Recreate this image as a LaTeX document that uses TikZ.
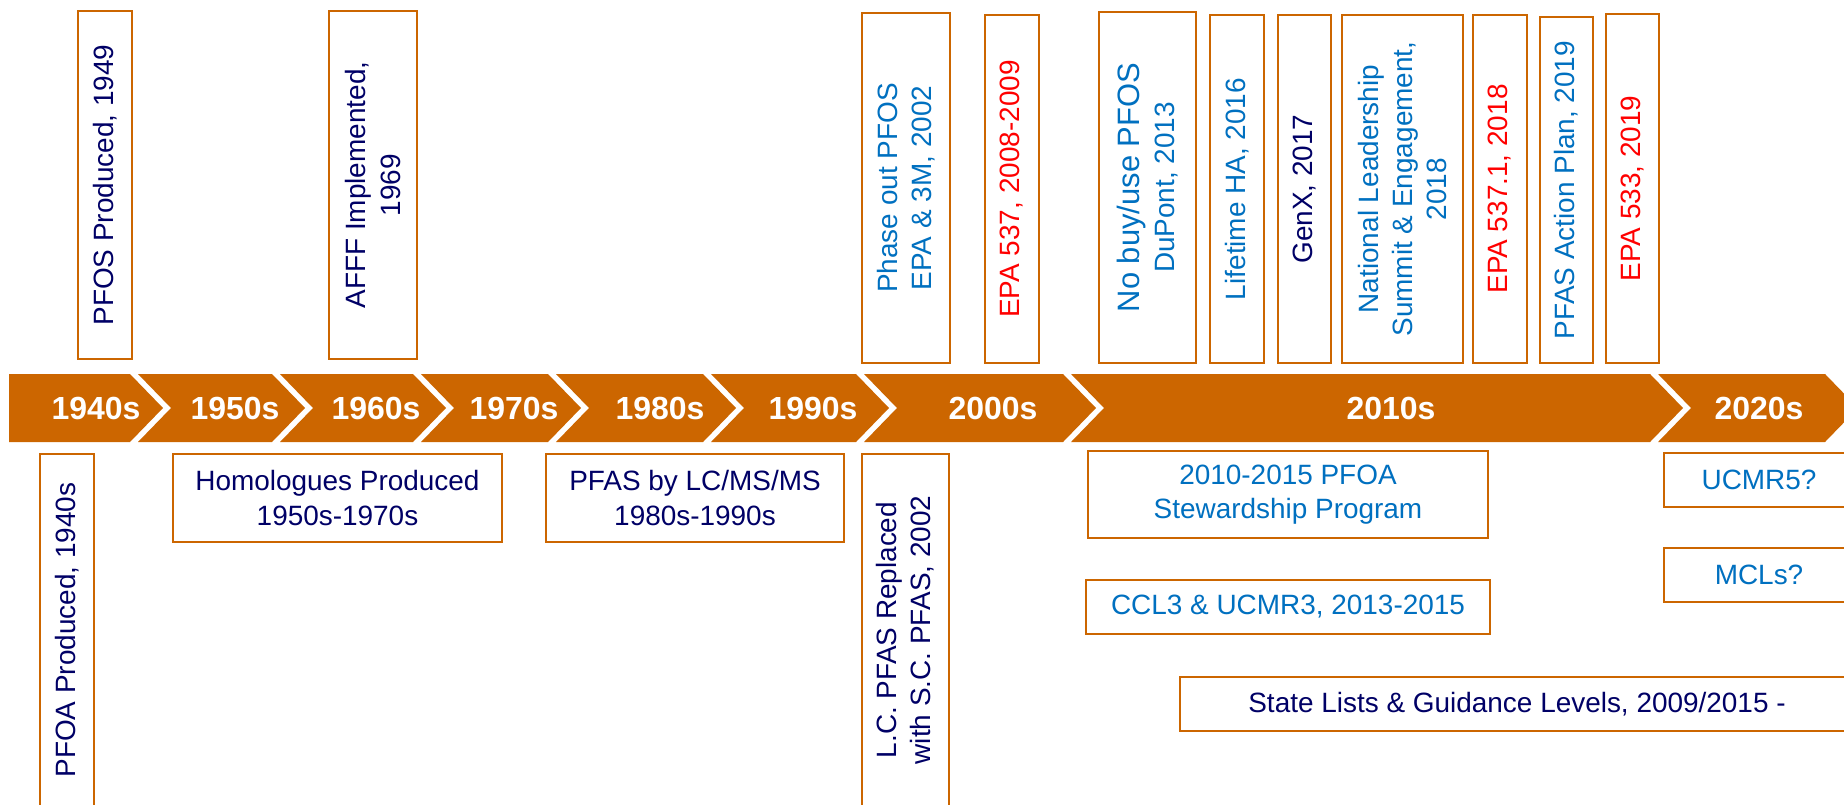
\documentclass[tikz,border=0pt]{standalone}
\usepackage{fontspec}
\setmainfont{Liberation Sans}
\definecolor{tlorange}{HTML}{CC6600}
\definecolor{tlnavy}{HTML}{000066}
\definecolor{tlblue}{HTML}{0070C0}
\definecolor{tlred}{HTML}{FF0000}

\begin{document}
\begin{tikzpicture}[
  x=0.02cm, y=-0.02cm,
  decade/.style={text=white, font=\fontsize{18.2}{20}\selectfont\bfseries},
  evbox/.style={draw=tlorange, line width=1.15pt, fill=white, inner sep=0pt, align=center, font=\fontsize{15.9}{19.5}\selectfont},
  vbox/.style 2 args={evbox, rotate=90, minimum width=#1*0.02cm, minimum height=#2*0.02cm},
  hbox/.style 2 args={evbox, minimum width=#1*0.02cm, minimum height=#2*0.02cm},
]
\clip (0,0) rectangle (1844,804);

% Decade bar
\foreach \xl/\xr/\xt/\nd/\lab in {9/130/96/0/1940s, 138/272/235/33/1950s, 280/413/376/33/1960s,
    421/548/514/33/1970s, 556/703/660/33/1980s, 711/856/813/33/1990s, 864/1063/993/33/2000s,
    1071/1650/1391/33/2010s, 1658/1825/1759/33/2020s}{
  \fill[tlorange] (\xl,374) -- (\xr,374) -- (\xr+33,408) -- (\xr,442) -- (\xl,442) -- (\xl+\nd,408) -- cycle;
  \node[decade] (d\lab) at (\xt,408) {\lab};
}

% Events above the bar
\node[vbox={348}{54}, text=tlnavy] (pfos) at (105,185) {PFOS Produced, 1949};
\node[vbox={348}{88}, text=tlnavy] (afff) at (373,185) {AFFF Implemented,\\1969};
\node[vbox={350}{88}, text=tlblue] (phaseout) at (906,188) {Phase out PFOS\\EPA \& 3M, 2002};
\node[vbox={348}{54}, text=tlred] (epa537) at (1012,189) {EPA 537, 2008-2009};
\node[vbox={351}{97}, text=tlblue] (nobuy) at (1147.5,187.5) {{\fontsize{17.6}{19.5}\selectfont No buy/use PFOS}\\DuPont, 2013};
\node[vbox={348}{54}, text=tlblue] (lifeha) at (1237,189) {Lifetime HA, 2016};
\node[vbox={348}{53}, text=tlnavy] (genx) at (1304.5,189) {GenX, 2017};
\node[vbox={348}{121}, text=tlblue] (summit) at (1402.5,189) {National Leadership\\Summit \& Engagement,\\2018};
\node[vbox={348}{54}, text=tlred] (epa5371) at (1500,189) {EPA 537.1, 2018};
\node[vbox={346}{53}, text=tlblue] (actplan) at (1566.5,190) {PFAS Action Plan, 2019};
\node[vbox={349}{53}, text=tlred] (epa533) at (1632.5,188.5) {EPA 533, 2019};

% Events below the bar
\node[vbox={352}{54}, text=tlnavy] (pfoa) at (67,630) {PFOA Produced, 1940s};
\node[hbox={329}{88}, text=tlnavy] (homol) at (337.5,498) {Homologues Produced\\1950s-1970s};
\node[hbox={298}{88}, text=tlnavy] (lcmsms) at (695,498) {PFAS by LC/MS/MS\\1980s-1990s};
\node[vbox={352}{87}, text=tlnavy] (lcpfas) at (905.5,630) {L.C. PFAS Replaced\\with S.C. PFAS, 2002};
\node[hbox={400}{87}, text=tlblue] (stewprog) at (1288,494.5) {2010-2015 PFOA\\Stewardship Program};
\node[hbox={404}{54}, text=tlblue] (ucmr3) at (1288,607) {CCL3 \& UCMR3, 2013-2015};
\node[hbox={190}{54}, text=tlblue] (ucmr5) at (1759,480) {UCMR5?};
\node[hbox={190}{54}, text=tlblue] (mcls) at (1759,575) {MCLs?};
\node[hbox={674}{54}, text=tlnavy] (statelists) at (1517,704) {State Lists \& Guidance Levels, 2009/2015 -};

\end{tikzpicture}
\end{document}
